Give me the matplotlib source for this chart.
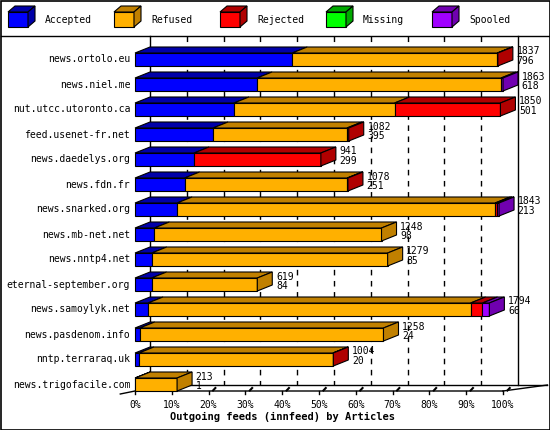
import matplotlib
matplotlib.use("Agg")
import matplotlib.pyplot as plt
from matplotlib.patches import Polygon, Rectangle

feeds = ["news.ortolo.eu", "news.niel.me", "nut.utcc.utoronto.ca", "feed.usenet-fr.net",
         "news.daedelys.org", "news.fdn.fr", "news.snarked.org", "news.mb-net.net",
         "news.nntp4.net", "eternal-september.org", "news.samoylyk.net", "news.pasdenom.info",
         "nntp.terraraq.uk", "news.trigofacile.com"]
totals = [1837, 1863, 1850, 1082, 941, 1078, 1843, 1248, 1279, 619, 1794, 1258, 1004, 213]
accepted = [796, 618, 501, 395, 299, 251, 213, 98, 85, 84, 66, 24, 20, 1]
refused = [1038, 1235, 813, 678, 0, 823, 1610, 1150, 1194, 535, 1633, 1234, 982, 212]
rejected = [3, 0, 536, 9, 642, 4, 8, 0, 0, 0, 60, 0, 2, 0]
missing = [0] * 14
spooled = [0, 10, 0, 0, 0, 0, 12, 0, 0, 0, 35, 0, 0, 0]
categories = ["Accepted", "Refused", "Rejected", "Missing", "Spooled"]
front_col = ["#0000FF", "#FFB000", "#FF0000", "#00FF00", "#A000FF"]
top_col = ["#0000A8", "#C08000", "#B00000", "#00A800", "#7000B0"]
xticks = list(range(0, 101, 10))

W, H = 550, 430
fig = plt.figure(figsize=(W / 100, H / 100), dpi=100)
fig.patch.set_facecolor("white")
mono = "DejaVu Sans Mono"
FS = 7

bg = fig.add_axes([0, 0, 1, 1])
bg.set_xlim(0, W); bg.set_ylim(H, 0); bg.axis("off")
bg.add_patch(Rectangle((0.5, 0.5), W - 1, H - 1, fill=False, ec="black", lw=1.2))
bg.plot([1, W - 1], [36, 36], color="black", lw=1)

for i, (c, fc, tc) in enumerate(zip(categories, front_col, top_col)):
    x0 = 8 + 106 * i
    y0, y1 = 12, 27
    bg.add_patch(Polygon([(x0, y0), (x0 + 20, y0), (x0 + 20, y1), (x0, y1)], fc=fc, ec="black", lw=0.8))
    bg.add_patch(Polygon([(x0, y0), (x0 + 7, y0 - 6), (x0 + 27, y0 - 6), (x0 + 20, y0)], fc=tc, ec="black", lw=0.8))
    bg.add_patch(Polygon([(x0 + 20, y0), (x0 + 27, y0 - 6), (x0 + 27, y1 - 6), (x0 + 20, y1)], fc=tc, ec="black", lw=0.8))
    bg.text(x0 + 37, 20, c, fontsize=FS, family=mono, va="center", ha="left")

left_px, right_px = 135, 503
top_px, bot_px = 28, 403
ax = fig.add_axes([left_px / W, 1 - bot_px / H, (right_px - left_px) / W, (bot_px - top_px) / H])
ax.set_xlim(0, 100)
ax.set_ylim(14, -1)
ax.axis("off")
pxr = 25.0
dx = 15 / 3.68
dy = -6 / pxr
bh = 13 / pxr
floor_y = 13 + bh
top_y = (36 - top_px) / pxr - 1

ax.plot([dx, dx], [top_y, floor_y + dy], color="black", lw=1, clip_on=False)
ax.plot([100 + dx, 100 + dx], [top_y, floor_y + dy], color="black", lw=1, clip_on=False)
for t in xticks[1:-1]:
    ax.plot([t + dx, t + dx], [top_y, floor_y + dy], color="black", lw=1, ls=(0, (4, 4)), clip_on=False, zorder=1)
ax.plot([dx, 100 + dx + 8], [floor_y + dy, floor_y + dy], color="black", lw=1, clip_on=False)
ax.plot([-4, 0, 100], [floor_y + 0.12, floor_y, floor_y], color="black", lw=1, clip_on=False)
ax.plot([100, 100 + dx + 8], [floor_y, floor_y + dy], color="black", lw=1, clip_on=False)
for t in xticks:
    ax.plot([t, t], [floor_y, floor_y + 0.12], color="black", lw=1, clip_on=False)
    if 0 < t:
        ax.plot([t + 1.2, t + dx * 0.45], [floor_y - 0.02, floor_y + dy * 0.5], color="black", lw=1.5, clip_on=False)
    ax.text(t, floor_y + 0.35, f"{t}%", fontsize=FS, family=mono, ha="center", va="top")
ax.text(40, floor_y + 0.85, "Outgoing feeds (innfeed) by Articles", fontsize=FS + 0.5,
        family=mono, weight="bold", ha="center", va="top")

maxtot = max(totals)
series = [accepted, refused, rejected, missing, spooled]
for r in range(len(feeds)):
    y0 = r
    x = 0.0
    last = None
    for k, s in enumerate(series):
        v = s[r]
        if v <= 0:
            continue
        w = v / maxtot * 100
        ax.add_patch(Polygon([(x, y0), (x + w, y0), (x + w, y0 + bh), (x, y0 + bh)],
                             fc=front_col[k], ec="black", lw=0.8, zorder=3, clip_on=False))
        ax.add_patch(Polygon([(x, y0), (x + dx, y0 + dy), (x + w + dx, y0 + dy), (x + w, y0)],
                             fc=top_col[k], ec="black", lw=0.8, zorder=3, clip_on=False))
        x += w
        last = k
    ax.add_patch(Polygon([(x, y0), (x + dx, y0 + dy), (x + dx, y0 + bh + dy), (x, y0 + bh)],
                         fc=top_col[last], ec="black", lw=0.8, zorder=3, clip_on=False))
    ax.text(-1.3, y0 + bh / 2, feeds[r], fontsize=FS, family=mono, ha="right", va="center")
    ax.text(x + dx + 1.0, y0 + dy - 0.02, f"{totals[r]}\n{accepted[r]}", fontsize=FS, family=mono,
            ha="left", va="top", linespacing=0.95, zorder=4)

fig.savefig("out.png", dpi=100)
